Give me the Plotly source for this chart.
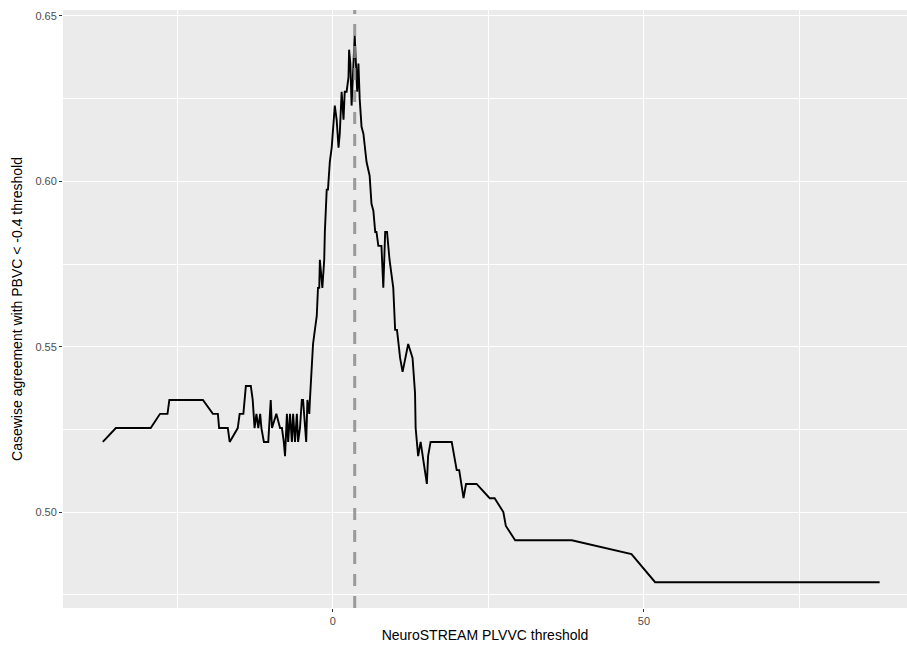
import plotly.graph_objects as go

# NeuroSTREAM PLVVC threshold (x) and casewise agreement (y)
threshold = [
    -37.0, -34.9, -29.3, -27.8, -26.6, -26.3, -20.9, -19.3, -18.5, -18.3,
    -16.9, -16.6, -15.3, -15.0, -14.4, -14.0, -13.2, -12.9, -12.6,
    -12.3, -12.0, -11.7, -11.5, -11.1, -10.4, -10.0, -9.8, -9.1, -8.5,
    -8.2, -7.9, -7.7, -7.4, -7.2, -6.9, -6.6, -6.4, -6.1, -5.8,
    -5.6, -5.3, -5.0, -4.8, -4.5, -4.3, -4.1, -3.8,
    -3.7, -3.4, -3.2, -2.9, -2.6, -2.4, -2.2, -2.1, -1.9, -1.7,
    -1.4, -1.3, -1.0, -0.8, -0.5, -0.2, 0.05, 0.3, 0.6, 0.9,
    1.1, 1.4, 1.7, 1.9, 2.2, 2.5, 2.6, 2.8, 3.0, 3.3,
    3.5, 3.7, 3.9, 4.1, 4.3, 4.6, 4.9, 5.4, 5.9, 6.2,
    6.5, 6.8, 7.0, 7.3, 7.8, 8.1, 8.4, 8.7, 9.1, 9.7,
    10.0, 10.3, 10.8, 11.2, 12.1, 12.8, 13.2, 13.3, 13.7, 14.1,
    14.4, 14.8, 15.1, 15.3, 15.7, 19.1, 19.5, 19.9, 20.3, 20.6,
    21.0, 21.4, 23.1, 25.2, 26.0, 27.4, 27.8, 29.3, 38.4, 48.0,
    51.8, 87.9,
]
agreement = [
    0.5212, 0.5254, 0.5254, 0.5297, 0.5297, 0.5339, 0.5339, 0.5297, 0.5297, 0.5254,
    0.5254, 0.5212, 0.5254, 0.5297, 0.5297, 0.5381, 0.5381, 0.5339, 0.5254,
    0.5297, 0.5254, 0.5297, 0.5254, 0.5212, 0.5212, 0.5339, 0.5254, 0.5297, 0.5254,
    0.5254, 0.5212, 0.5169, 0.5297, 0.5212, 0.5297, 0.5212, 0.5297, 0.5212, 0.5297,
    0.5212, 0.5254, 0.5339, 0.5339, 0.5254, 0.5212, 0.5339, 0.5297,
    0.5339, 0.5424, 0.5508, 0.5551, 0.5593, 0.5678, 0.5678, 0.5763, 0.5720, 0.5678,
    0.5763, 0.5847, 0.5975, 0.5975, 0.6059, 0.6102, 0.6165, 0.6229, 0.6186, 0.6102,
    0.6144, 0.6271, 0.6186, 0.6271, 0.6271, 0.6314, 0.6398, 0.6356, 0.6229, 0.6356,
    0.6441, 0.6356, 0.6271, 0.6356, 0.6250, 0.6165, 0.6144, 0.6059, 0.6017, 0.5932,
    0.5911, 0.5847, 0.5847, 0.5805, 0.5805, 0.5678, 0.5847, 0.5847, 0.5763, 0.5678,
    0.5551, 0.5551, 0.5466, 0.5424, 0.5508, 0.5466, 0.5360, 0.5254, 0.5169, 0.5212,
    0.5169, 0.5127, 0.5085, 0.5169, 0.5212, 0.5212, 0.5169, 0.5127, 0.5127, 0.5085,
    0.5042, 0.5085, 0.5085, 0.5042, 0.5042, 0.5000, 0.4958, 0.4915, 0.4915, 0.4873,
    0.4788, 0.4788,
]
best_threshold = 3.5

x_range = [-43.4, 92.3]
y_range = [0.471, 0.6518]

fig = go.Figure()
fig.add_trace(go.Scatter(
    x=threshold, y=agreement, mode="lines",
    line=dict(color="black", width=1.9),
    showlegend=False, hoverinfo="skip",
))
fig.add_trace(go.Scatter(
    x=[best_threshold, best_threshold], y=y_range, mode="lines",
    line=dict(color="rgba(140,140,140,0.85)", width=3, dash="12px,10px"),
    showlegend=False, hoverinfo="skip",
))

fig.update_layout(
    width=907, height=647,
    margin=dict(l=63, r=0, t=10, b=39),
    paper_bgcolor="white",
    plot_bgcolor="#EBEBEB",
    font=dict(family="Liberation Sans, Arial, sans-serif", color="black"),
)
fig.update_xaxes(
    range=x_range, tickvals=[0, 50], ticktext=["0", "50"],
    automargin=False,
    ticks="outside", ticklen=3, tickwidth=1, tickcolor="#333333",
    tickfont=dict(size=11, color="#4D4D4D"),
    showgrid=True, gridcolor="white", gridwidth=1.4, zeroline=False,
    minor=dict(tickvals=[-25, 25, 75], showgrid=True, gridcolor="white", gridwidth=0.7, ticks=""),
    showline=False,
    title=dict(text="NeuroSTREAM PLVVC threshold", font=dict(size=14, color="black"), standoff=3),
)
fig.update_yaxes(
    range=y_range, tickvals=[0.50, 0.55, 0.60, 0.65],
    ticktext=["0.50", "0.55", "0.60", "0.65"],
    automargin=False,
    ticks="outside", ticklen=3, tickwidth=1, tickcolor="#333333",
    tickfont=dict(size=11, color="#4D4D4D"),
    showgrid=True, gridcolor="white", gridwidth=1.4, zeroline=False,
    minor=dict(tickvals=[0.475, 0.525, 0.575, 0.625], showgrid=True, gridcolor="white", gridwidth=0.7, ticks=""),
    showline=False,
    title=dict(text="Casewise agreement with PBVC &lt; -0.4 threshold", font=dict(size=14, color="black"), standoff=9),
)

fig.write_html(
    "out.html",
    config={"displayModeBar": False},
    post_script="document.body.style.margin='0';document.body.style.overflow='hidden';",
)
